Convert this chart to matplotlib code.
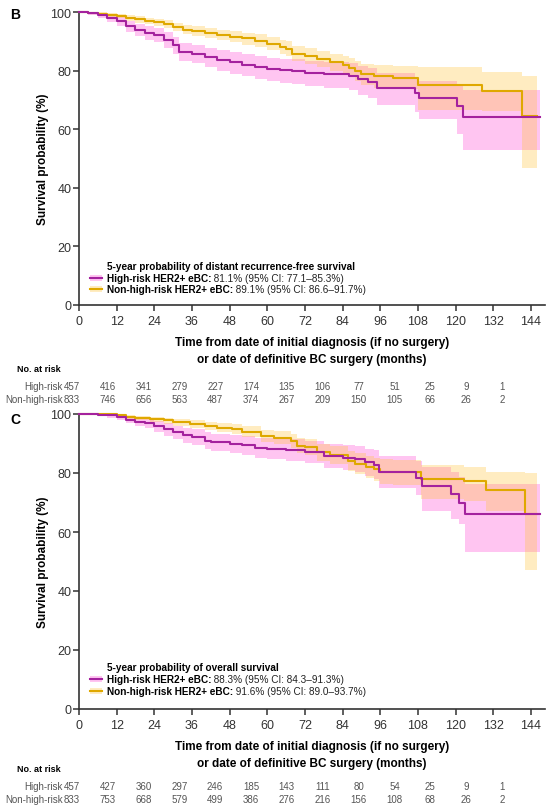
import matplotlib
matplotlib.use('Agg')
import matplotlib.pyplot as plt
from matplotlib.patches import Rectangle
from matplotlib.transforms import blended_transform_factory

plt.rcParams['font.family'] = ['Liberation Sans', 'DejaVu Sans']

# ---- Panel B: distant recurrence-free survival ----
b_hr_t = [0, 3, 6, 9, 12, 15, 18, 21, 24, 27, 30, 32, 36, 40, 44, 48, 52, 56, 60, 64, 68, 72, 78, 86,
          89, 92, 95, 107, 108.5, 120.6, 122.5, 147]
b_hr_s = [100, 99.6, 99.0, 98.0, 97.0, 95.2, 94.0, 93.0, 92.2, 90.6, 88.6, 86.4, 85.8, 84.6, 83.6, 82.8,
          82.0, 81.3, 80.6, 80.2, 79.8, 79.2, 78.8, 78.2, 77.0, 76.0, 74.0, 72.2, 70.6, 68.0, 64.3, 64.3]
b_hr_lo = [100, 99, 98, 96.6, 95.3, 93.2, 91.8, 90.6, 89.6, 87.8, 85.6, 83.2, 82.5, 81.2, 80, 79, 78.2,
           77.3, 76.4, 75.9, 75.4, 74.7, 74.1, 73.3, 71.8, 70.6, 68.2, 66, 63.5, 58.4, 53, 53]
b_hr_hi = [100, 100, 99.8, 99.3, 98.5, 97, 96, 95.2, 94.6, 93.2, 91.4, 89.4, 88.8, 87.8, 87, 86.4, 85.6,
           85, 84.4, 84.1, 83.8, 83.3, 83, 82.6, 81.6, 80.8, 79.2, 77.8, 76.6, 75.5, 73.5, 73.5]

b_nhr_t = [0, 3, 6, 9, 12, 15, 18, 21, 24, 27, 30, 33, 36, 40, 44, 48, 52, 56, 60, 64, 66, 68, 72, 76,
           80, 84, 86, 88, 90, 94, 100, 108, 128.3, 141.3, 146]
b_nhr_s = [100, 99.8, 99.4, 99.0, 98.6, 98.0, 97.5, 97.0, 96.5, 95.8, 95.0, 94.0, 93.5, 93.0, 92.2, 91.6,
           91.0, 90.2, 89.2, 88.2, 87.5, 85.8, 85.0, 84.0, 82.8, 81.8, 81.0, 80.0, 78.8, 78.0, 77.5, 75.2,
           73.2, 64.6, 64.6]
b_nhr_lo = [100, 99.4, 98.9, 98.3, 97.8, 97, 96.4, 95.8, 95.2, 94.4, 93.5, 92.4, 91.8, 91.2, 90.3, 89.6,
            88.9, 88, 86.9, 85.8, 85, 83.2, 82.3, 81.2, 79.8, 78.6, 77.7, 76.6, 75.2, 74.2, 73.6, 66.6,
            66.3, 46.6, 46.6]
b_nhr_hi = [100, 100, 99.9, 99.6, 99.3, 98.9, 98.5, 98.1, 97.7, 97.1, 96.4, 95.5, 95.1, 94.7, 94, 93.5,
            93, 92.4, 91.5, 90.6, 90, 88.4, 87.7, 86.8, 85.7, 84.9, 84.2, 83.4, 82.4, 81.8, 81.5, 81.1,
            79.4, 78.3, 78.3]

# ---- Panel C: overall survival ----
c_hr_t = [0, 6, 9, 12, 15, 18, 21, 24, 27, 30, 33, 36, 40, 42, 48, 52, 56, 60, 66, 72, 78, 84, 88, 91,
          94, 95.7, 107.5, 109.4, 118.7, 121, 123, 147]
c_hr_s = [100, 99.7, 99.5, 99.0, 98.0, 97.3, 96.8, 95.8, 94.8, 93.8, 92.8, 92.2, 91.0, 90.4, 89.8, 89.4,
          88.6, 88.2, 87.8, 87.2, 85.8, 85.2, 84.7, 83.6, 82.8, 80.3, 78.3, 75.6, 72.9, 69.8, 66.1, 66.1]
c_hr_lo = [100, 99.2, 98.8, 98.1, 96.8, 95.8, 95.1, 93.9, 92.7, 91.5, 90.3, 89.6, 88.2, 87.5, 86.7, 86.2,
           85.2, 84.7, 84.2, 83.4, 81.8, 81.0, 80.3, 79.0, 77.9, 74.8, 72.4, 67.2, 64.5, 62.7, 53.3, 53.3]
c_hr_hi = [100, 100, 100, 99.7, 99.1, 98.7, 98.4, 97.7, 96.9, 96.1, 95.3, 94.8, 93.8, 93.3, 92.9, 92.6,
           92.0, 91.7, 91.4, 91.0, 89.8, 89.4, 89.1, 88.2, 87.7, 85.8, 84.2, 82.0, 80.5, 78.8, 76.3, 76.3]

c_nhr_t = [0, 6, 12, 15, 18, 22.7, 27, 30, 35.5, 40, 44, 48.8, 52, 58, 62, 67.5, 69.5, 72, 76, 80, 85.7,
           88, 91.6, 94, 96, 100, 109, 122.7, 129.8, 142.2, 146]
c_nhr_s = [100, 99.9, 99.5, 99.0, 98.7, 98.3, 97.8, 97.2, 96.6, 96.0, 95.4, 94.9, 94.0, 92.6, 92.0, 91.0,
           89.3, 88.8, 87.1, 86.0, 84.2, 83.2, 82.0, 81.3, 80.5, 80.3, 78.0, 77.4, 74.3, 66.1, 66.1]
c_nhr_lo = [100, 99.6, 99.0, 98.3, 97.9, 97.4, 96.7, 96.0, 95.2, 94.5, 93.8, 93.1, 92.1, 90.5, 89.8, 88.6,
            86.7, 86.1, 84.2, 82.9, 80.8, 79.6, 78.2, 77.3, 76.3, 75.9, 71.2, 70.4, 67.2, 47.2, 47.2]
c_nhr_hi = [100, 100, 99.9, 99.6, 99.4, 99.1, 98.8, 98.3, 97.9, 97.4, 96.9, 96.6, 95.8, 94.6, 94.1, 93.3,
            91.8, 91.4, 89.9, 89.0, 87.5, 86.7, 85.7, 85.2, 84.6, 84.5, 82.6, 82.2, 80.3, 80.0, 80.0]

months = [0, 12, 24, 36, 48, 60, 72, 84, 96, 108, 120, 132, 144]
b_risk_hr = [457, 416, 341, 279, 227, 174, 135, 106, 77, 51, 25, 9, 1]
b_risk_nhr = [833, 746, 656, 563, 487, 374, 267, 209, 150, 105, 66, 26, 2]
c_risk_hr = [457, 427, 360, 297, 246, 185, 143, 111, 80, 54, 25, 9, 1]
c_risk_nhr = [833, 753, 668, 579, 499, 386, 276, 216, 156, 108, 68, 26, 2]

b_legend = ['5-year probability of distant recurrence-free survival',
            ('High-risk HER2+ eBC:', ' 81.1% (95% CI: 77.1\u201385.3%)'),
            ('Non-high-risk HER2+ eBC:', ' 89.1% (95% CI: 86.6\u201391.7%)')]
c_legend = ['5-year probability of overall survival',
            ('High-risk HER2+ eBC:', ' 88.3% (95% CI: 84.3\u201391.3%)'),
            ('Non-high-risk HER2+ eBC:', ' 91.6% (95% CI: 89.0\u201393.7%)')]

HR_LINE = '#a4229e'
HR_FILL = '#ff2fd0'
NHR_LINE = '#dfa800'
NHR_FILL = '#ffc233'
DARK = '#333333'
GREY = '#555555'

W, H = 550, 812


def draw_km(ax, hr, nhr, legend_txt, leg_y):
    ax.fill_between(hr[0], hr[2], hr[3], step='post', color=HR_FILL, alpha=0.28, lw=0, zorder=1)
    ax.fill_between(nhr[0], nhr[2], nhr[3], step='post', color=NHR_FILL, alpha=0.30, lw=0, zorder=1)
    ax.step(nhr[0], nhr[1], where='post', color=NHR_LINE, lw=1.5, zorder=3, clip_on=False)
    ax.step(hr[0], hr[1], where='post', color=HR_LINE, lw=1.5, zorder=4, clip_on=False)

    ax.set_xlim(0, 148.5)
    ax.set_ylim(0, 100)
    ax.set_xticks(months)
    ax.set_yticks(range(0, 101, 20))
    ax.tick_params(direction='out', length=4, width=1.1, colors=DARK, labelsize=9)
    ax.tick_params(axis='x', pad=3)
    ax.tick_params(axis='y', pad=1.5)
    for s in ['top', 'right']:
        ax.spines[s].set_visible(False)
    for s in ['left', 'bottom']:
        ax.spines[s].set_color(DARK)
        ax.spines[s].set_linewidth(1.2)
    ax.set_ylabel('Survival probability (%)', fontweight='bold', fontsize=8.5, labelpad=1)
    ax.set_xlabel('Time from date of initial diagnosis (if no surgery)\nor date of definitive BC surgery (months)',
                  fontweight='bold', fontsize=8.5, labelpad=7, linespacing=1.5)

    # legend, drawn by hand so the labels can mix bold and regular text
    ty, y1, y2 = leg_y
    tx = 0.060
    ax.text(tx, ty, legend_txt[0], transform=ax.transAxes, fontsize=7.2, fontweight='bold',
            va='center', ha='left')
    for yy, (bold, rest), line_c, fill_c, fa in [(y1, legend_txt[1], HR_LINE, HR_FILL, 0.28),
                                                (y2, legend_txt[2], NHR_LINE, NHR_FILL, 0.30)]:
        ax.add_patch(Rectangle((0.023, yy - 0.011), 0.027, 0.022, transform=ax.transAxes,
                               facecolor=fill_c, alpha=fa, lw=0))
        ax.plot([0.023, 0.050], [yy, yy], transform=ax.transAxes, color=line_c, lw=1.5)
        t = ax.text(tx, yy, bold, transform=ax.transAxes, fontsize=7.2, fontweight='bold',
                    va='center', ha='left')
        ax.annotate(rest, xy=(1, 0.5), xycoords=t, va='center', ha='left', fontsize=7.2, color='#222222')


def risk_table(fig, tab_ax, y_head, y1, y2, row1, row2):
    tr = blended_transform_factory(tab_ax.transData, fig.transFigure)
    fig.text(17 / W, 1 - y_head / H, 'No. at risk', fontweight='bold', fontsize=6.5, va='center')
    fig.text(63 / W, 1 - y1 / H, 'High-risk', fontsize=7, color=GREY, ha='right', va='center')
    fig.text(63 / W, 1 - y2 / H, 'Non-high-risk', fontsize=7, color=GREY, ha='right', va='center')
    for m, a, b in zip(months, row1, row2):
        tab_ax.text(m, 1 - y1 / H, str(a), transform=tr, fontsize=7, color=GREY, ha='center', va='center')
        tab_ax.text(m, 1 - y2 / H, str(b), transform=tr, fontsize=7, color=GREY, ha='center', va='center')


fig = plt.figure(figsize=(W / 100, H / 100), dpi=100)

ax_b = fig.add_axes([79 / W, 1 - 306 / H, 466 / W, 293 / H])
draw_km(ax_b, (b_hr_t, b_hr_s, b_hr_lo, b_hr_hi), (b_nhr_t, b_nhr_s, b_nhr_lo, b_nhr_hi), b_legend,
        (0.133, 0.092, 0.055))

ax_c = fig.add_axes([79 / W, 1 - 710 / H, 466 / W, 295 / H])
draw_km(ax_c, (c_hr_t, c_hr_s, c_hr_lo, c_hr_hi), (c_nhr_t, c_nhr_s, c_nhr_lo, c_nhr_hi), c_legend,
        (0.142, 0.102, 0.061))

# risk tables use a slightly narrower spacing than the axis ticks
tab_b = fig.add_axes([71.7 / W, 1 - 405 / H, 430.3 / W, 40 / H])
tab_b.set_xlim(0, 144)
tab_b.axis('off')
risk_table(fig, tab_b, 370, 387, 400, b_risk_hr, b_risk_nhr)

tab_c = fig.add_axes([71.7 / W, 1 - 805 / H, 430.3 / W, 40 / H])
tab_c.set_xlim(0, 144)
tab_c.axis('off')
risk_table(fig, tab_c, 770, 787, 800, c_risk_hr, c_risk_nhr)

fig.text(10 / W, 1 - 15 / H, 'B', fontweight='bold', fontsize=10, va='center')
fig.text(10 / W, 1 - 420 / H, 'C', fontweight='bold', fontsize=10, va='center')

fig.savefig('out.png', dpi=100)
